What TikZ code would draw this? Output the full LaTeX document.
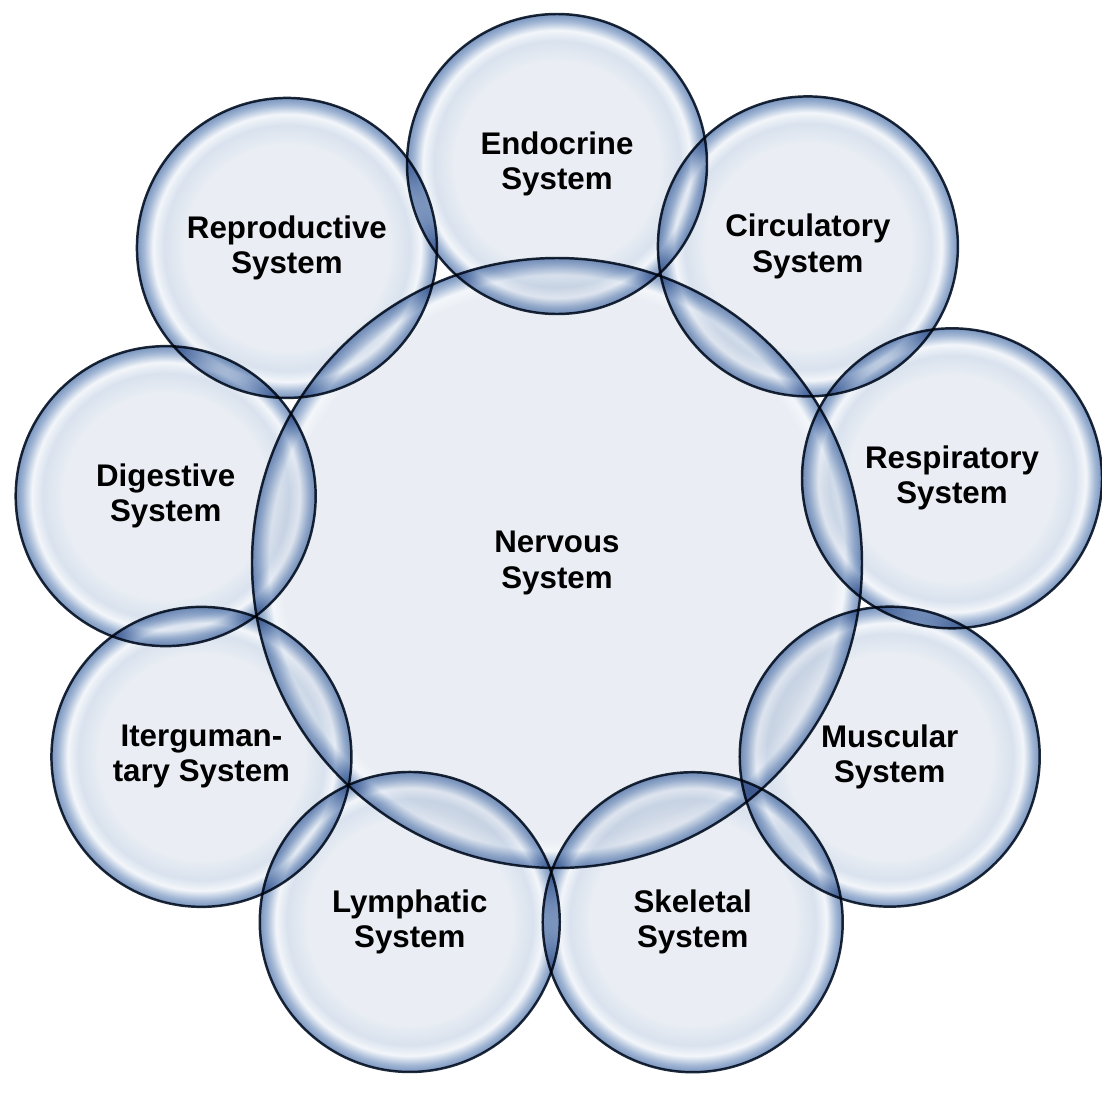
\documentclass[tikz,border=0pt]{standalone}
\usepackage{fontspec}
\setmainfont{Liberation Sans}
\usepackage{tikz}
\usetikzlibrary{
  shapes.misc,
  positioning,
  backgrounds
}

\definecolor{bubfill}{HTML}{EAEEF4}
\definecolor{bubmid}{HTML}{D9E2EE}
\definecolor{bubhigh}{HTML}{F3F6FA}
\definecolor{bubring}{HTML}{A5B9D6}
\definecolor{bubedge}{HTML}{7894BE}
\definecolor{bubline}{HTML}{1E2B3C}

\pgfdeclareradialshading{bubble}{\pgfpoint{0bp}{0bp}}{%
  color(0bp)=(bubfill); color(17bp)=(bubfill); color(20.5bp)=(bubmid);
  color(22.3bp)=(bubhigh); color(23.8bp)=(bubring); color(25bp)=(bubedge);
  color(50bp)=(bubedge)}
\pgfdeclareradialshading{bigbubble}{\pgfpoint{0bp}{0bp}}{%
  color(0bp)=(bubfill); color(22.6bp)=(bubfill); color(23.6bp)=(bubhigh);
  color(24.4bp)=(bubring); color(25bp)=(bubedge);
  color(50bp)=(bubedge)}

\begin{document}
\begin{tikzpicture}[
      system/.style={
         circle,
         minimum size=3.0cm,
         inner sep=0pt,
         draw=bubline,
         line width=0.7pt,
         shading=bubble,
         align=center,
         font=\bfseries\fontsize{8.9}{10}\selectfont
      },
      core/.style={
         system,
         minimum size=6.1cm,
         shading=bigbubble
      }
    ]
    \useasboundingbox (-5.57,-5.30) rectangle (5.45,5.63);
    \fill[white] (-5.57,-5.30) rectangle (5.45,5.63);
  \begin{scope}[blend mode=multiply]
    \node (nerv) [core] at (0,0) {Nervous\\System};
    % ring of systems round the nervous system
    \node (endo) [system] at (90:3.99)     {Endocrine\\System};
    \node (circ) [system] at (51.6:4.04)   {Circulatory\\System};
    \node (resp) [system] at (12.1:4.04)   {Respiratory\\System};
    \node (musc) [system] at (-30.2:3.85)  {Muscular\\System};
    \node (skel) [system] at (-69.3:3.84)  {Skeletal\\System};
    \node (lymph) [system] at (-112.3:3.88) {Lymphatic\\System};
    \node (integ) [system] at (-151.4:4.05) {Iterguman-\\tary System};
    \node (dige) [system] at (170.3:3.97)  {Digestive\\System};
    \node (repr) [system] at (130.6:4.15)  {Reproductive\\System};
  \end{scope}
\end{tikzpicture}
\end{document}
